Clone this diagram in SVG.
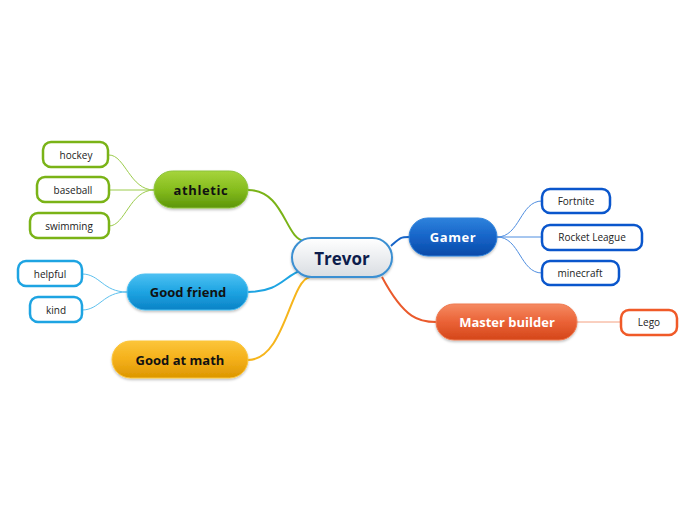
<svg xmlns="http://www.w3.org/2000/svg" width="696" height="520" viewBox="0 0 696 520">
<defs>
<linearGradient id="gCenter" x1="0" y1="0" x2="0" y2="1"><stop offset="0" stop-color="#ffffff"/><stop offset="1" stop-color="#d9dde2"/></linearGradient>
<linearGradient id="gGreen" x1="0" y1="0" x2="0" y2="1"><stop offset="0" stop-color="#a6d43c"/><stop offset="0.5" stop-color="#86bd1e"/><stop offset="1" stop-color="#5c950a"/></linearGradient>
<linearGradient id="gSky" x1="0" y1="0" x2="0" y2="1"><stop offset="0" stop-color="#4cc0f2"/><stop offset="0.5" stop-color="#1ea4e2"/><stop offset="1" stop-color="#0a82c6"/></linearGradient>
<linearGradient id="gYellow" x1="0" y1="0" x2="0" y2="1"><stop offset="0" stop-color="#fcc53a"/><stop offset="0.5" stop-color="#f4b01a"/><stop offset="1" stop-color="#dc9600"/></linearGradient>
<linearGradient id="gBlue" x1="0" y1="0" x2="0" y2="1"><stop offset="0" stop-color="#2e82dc"/><stop offset="0.5" stop-color="#1664c8"/><stop offset="1" stop-color="#0a4aa8"/></linearGradient>
<linearGradient id="gOrange" x1="0" y1="0" x2="0" y2="1"><stop offset="0" stop-color="#f58a62"/><stop offset="0.5" stop-color="#ea6236"/><stop offset="1" stop-color="#d4461a"/></linearGradient>
<filter id="sh" x="-10%" y="-20%" width="120%" height="150%"><feDropShadow dx="0" dy="1.5" stdDeviation="1.2" flood-color="#000" flood-opacity="0.25"/></filter>
</defs>
<style>
text{font-family:"Open Sans","Noto Sans","DejaVu Sans",sans-serif;text-anchor:middle;dominant-baseline:central}
.main{font-size:13px;font-weight:bold;fill:#111}
.mainw{font-size:13px;font-weight:bold;fill:#fff}
.sub{font-size:10px;fill:#222}
.leaf{fill:#fff;stroke-width:2.5}
.c{fill:none}
</style>
<g id="connectors">
<path class="c" d="M248,190 C285,190 285,240 305,241" stroke="#7ab317" stroke-width="2"/>
<path class="c" d="M248,292 C280,292 285,275 302,270" stroke="#1ea4e2" stroke-width="2"/>
<path class="c" d="M248,360 C285,360 290,280 310,277" stroke="#f6b51c" stroke-width="2"/>
<path class="c" d="M391,246 C400,238 400,237 409,237" stroke="#1664c8" stroke-width="2"/>
<path class="c" d="M382,277 C405,320 420,322 436,322" stroke="#ea5a2c" stroke-width="2"/>
<g stroke-width="1">
<path class="c" d="M154,190 C130,190 125,155 109,155" stroke="#9ccc4c"/>
<path class="c" d="M154,190 L109,190" stroke="#9ccc4c"/>
<path class="c" d="M154,190 C130,190 125,226 109,226" stroke="#9ccc4c"/>
<path class="c" d="M127,292 C103,292 100,274 82,274" stroke="#5cc0ee"/>
<path class="c" d="M127,292 C103,292 100,310 82,310" stroke="#5cc0ee"/>
<path class="c" d="M497,237 C520,237 520,201 542,201" stroke="#4f8ee0"/>
<path class="c" d="M497,237 L542,237" stroke="#4f8ee0"/>
<path class="c" d="M497,237 C520,237 520,273 542,273" stroke="#4f8ee0"/>
<path class="c" d="M577,322 L621,322" stroke="#f4a080"/>
</g>
</g>
<g id="trevor"><rect x="292" y="238" width="100" height="39" rx="19.5" fill="url(#gCenter)" stroke="#3a8fd2" stroke-width="2" filter="url(#sh)"/><text x="342" y="258" style="font-size:17px;font-weight:bold;fill:#0c1c4c">Trevor</text></g>
<g id="athletic"><rect x="154" y="171" width="94" height="37" rx="18.5" fill="url(#gGreen)" stroke="#8cc43a" stroke-width="1" filter="url(#sh)"/><text class="main" x="201" y="190" letter-spacing="0.6">athletic</text></g>
<g id="hockey"><rect class="leaf" x="43" y="142" width="65" height="25" rx="8" stroke="#7ab317"/><text class="sub" x="76" y="155">hockey</text></g>
<g id="baseball"><rect class="leaf" x="37" y="177" width="72" height="25" rx="8" stroke="#7ab317"/><text class="sub" x="73" y="190">baseball</text></g>
<g id="swimming"><rect class="leaf" x="30" y="213" width="79" height="25" rx="8" stroke="#7ab317"/><text class="sub" x="69" y="226">swimming</text></g>
<g id="goodfriend"><rect x="127" y="274" width="121" height="36" rx="18" fill="url(#gSky)" stroke="#4cc0f2" stroke-width="1" filter="url(#sh)"/><text class="main" x="188" y="292">Good friend</text></g>
<g id="helpful"><rect class="leaf" x="18" y="261" width="64" height="25" rx="8" stroke="#1ea4e2"/><text class="sub" x="50" y="274">helpful</text></g>
<g id="kind"><rect class="leaf" x="30" y="297" width="52" height="25" rx="8" stroke="#1ea4e2"/><text class="sub" x="56" y="310">kind</text></g>
<g id="goodatmath"><rect x="112" y="341" width="136" height="37" rx="18.5" fill="url(#gYellow)" stroke="#fcc53a" stroke-width="1" filter="url(#sh)"/><text class="main" x="180" y="360">Good at math</text></g>
<g id="gamer"><rect x="409" y="218" width="88" height="38" rx="19" fill="url(#gBlue)" stroke="#2e82dc" stroke-width="1" filter="url(#sh)"/><text class="mainw" x="453" y="237" letter-spacing="0.6">Gamer</text></g>
<g id="fortnite"><rect class="leaf" x="542" y="189" width="68" height="24" rx="8" stroke="#0a56cc"/><text class="sub" x="576" y="201">Fortnite</text></g>
<g id="rocketleague"><rect class="leaf" x="542" y="225" width="100" height="25" rx="8" stroke="#0a56cc"/><text class="sub" x="592" y="237">Rocket League</text></g>
<g id="minecraft"><rect class="leaf" x="542" y="261" width="77" height="24" rx="8" stroke="#0a56cc"/><text class="sub" x="580" y="273">minecraft</text></g>
<g id="masterbuilder"><rect x="436" y="304" width="141" height="36" rx="18" fill="url(#gOrange)" stroke="#f07a50" stroke-width="1" filter="url(#sh)"/><text class="mainw" x="507" y="322">Master builder</text></g>
<g id="lego"><rect class="leaf" x="621" y="310" width="56" height="25" rx="8" stroke="#f05a28"/><text class="sub" x="649" y="322">Lego</text></g>
</svg>
